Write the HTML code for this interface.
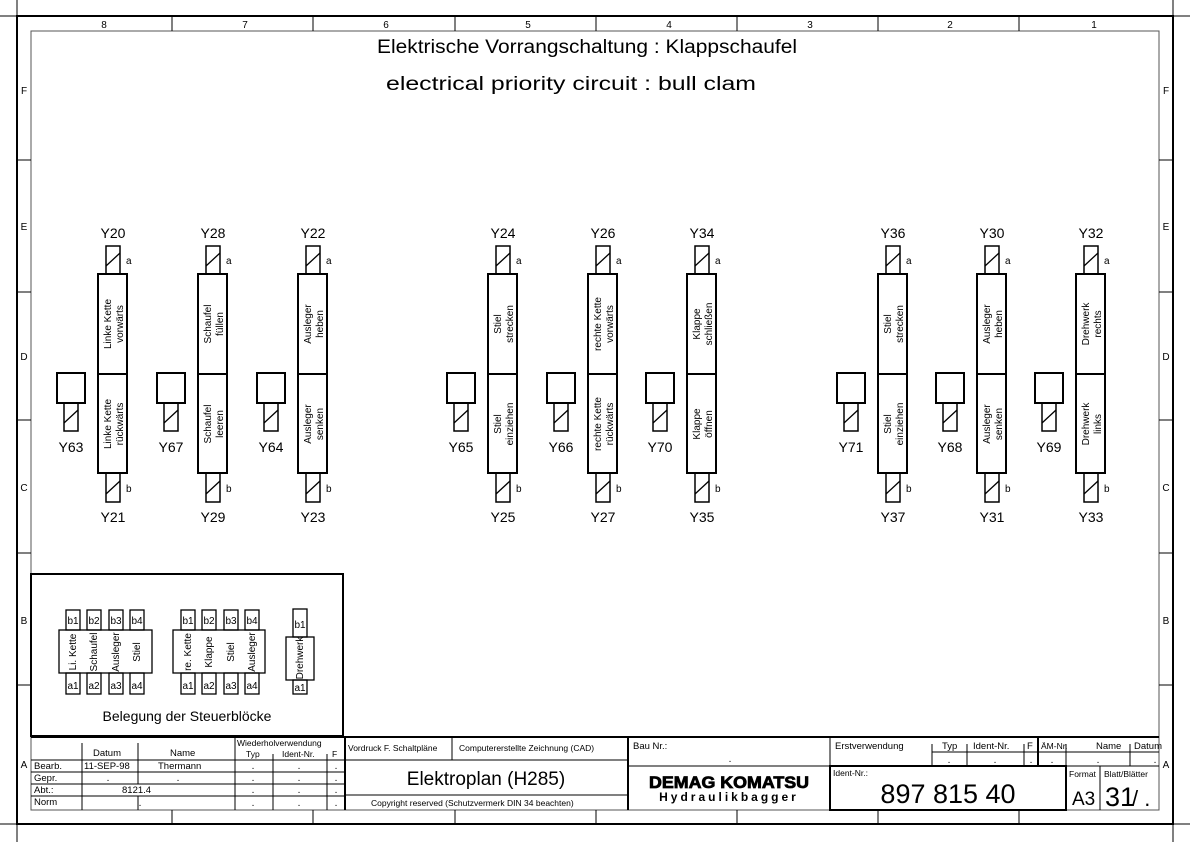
<!DOCTYPE html>
<html><head><meta charset="utf-8"><style>
html,body{margin:0;padding:0;background:#fff;}
svg{display:block;font-family:"Liberation Sans",sans-serif;}
</style></head><body>
<svg width="1190" height="842" viewBox="0 0 1190 842" xmlns="http://www.w3.org/2000/svg">
<defs>
<g id="v" fill="none" stroke="#000">
<rect x="0" y="274" width="29" height="199" stroke-width="2"/>
<line x1="0" y1="374" x2="29" y2="374" stroke-width="2"/>
<rect x="8" y="246" width="14" height="28" stroke-width="1.5"/>
<line x1="8" y1="266" x2="22" y2="253" stroke-width="1.3"/>
<rect x="8" y="473" width="14" height="29" stroke-width="1.5"/>
<line x1="8" y1="494" x2="22" y2="481" stroke-width="1.3"/>
<rect x="-41" y="373" width="28" height="30" stroke-width="2"/>
<rect x="-34" y="403" width="14" height="28" stroke-width="1.5"/>
<line x1="-34" y1="423" x2="-20" y2="410" stroke-width="1.3"/>
</g>
</defs>
<g fill="none" stroke="#000">
<rect x="17" y="16" width="1156" height="808" stroke-width="2"/>
<rect x="31" y="31" width="1128" height="779" stroke-width="1" stroke="#555"/>
<path d="M0 16 H28 M17 0 V28 M1162 16 H1190 M1173 0 V28 M0 824 H28 M17 812 V842 M1162 824 H1190 M1173 812 V842" stroke-width="1"/>
<path d="M172 16V31 M313 16V31 M455 16V31 M596 16V31 M737 16V31 M878 16V31 M1019 16V31" stroke-width="1"/>
<path d="M172 810V824 M313 810V824 M455 810V824 M596 810V824 M737 810V824 M878 810V824 M1019 810V824" stroke-width="1"/>
<path d="M17 160H31 M17 292H31 M17 420H31 M17 553H31 M17 685H31 M1159 160H1173 M1159 292H1173 M1159 420H1173 M1159 553H1173 M1159 685H1173" stroke-width="1"/>
</g>
<g font-size="10" text-anchor="middle" fill="#000">
<text x="104" y="28">8</text><text x="245" y="28">7</text><text x="386" y="28">6</text><text x="528" y="28">5</text><text x="669" y="28">4</text><text x="810" y="28">3</text><text x="950" y="28">2</text><text x="1094" y="28">1</text>
<text x="24" y="94">F</text><text x="24" y="230">E</text><text x="24" y="360">D</text><text x="24" y="491">C</text><text x="24" y="624">B</text><text x="24" y="768">A</text>
<text x="1166" y="94">F</text><text x="1166" y="230">E</text><text x="1166" y="360">D</text><text x="1166" y="491">C</text><text x="1166" y="624">B</text><text x="1166" y="768">A</text>
</g>
<g font-size="19" text-anchor="middle" fill="#000">
<text x="587" y="53" textLength="420" lengthAdjust="spacingAndGlyphs">Elektrische Vorrangschaltung : Klappschaufel</text>
<text x="571" y="90" textLength="370" lengthAdjust="spacingAndGlyphs">electrical priority circuit : bull clam</text>
</g>
<use href="#v" x="98"/><use href="#v" x="198"/><use href="#v" x="298"/>
<use href="#v" x="488"/><use href="#v" x="588"/><use href="#v" x="687"/>
<use href="#v" x="878"/><use href="#v" x="977"/><use href="#v" x="1076"/>
<g font-size="14" text-anchor="middle" fill="#000">
<text x="113" y="238">Y20</text><text x="113" y="522">Y21</text><text x="71" y="452">Y63</text>
<text x="213" y="238">Y28</text><text x="213" y="522">Y29</text><text x="171" y="452">Y67</text>
<text x="313" y="238">Y22</text><text x="313" y="522">Y23</text><text x="271" y="452">Y64</text>
<text x="503" y="238">Y24</text><text x="503" y="522">Y25</text><text x="461" y="452">Y65</text>
<text x="603" y="238">Y26</text><text x="603" y="522">Y27</text><text x="561" y="452">Y66</text>
<text x="702" y="238">Y34</text><text x="702" y="522">Y35</text><text x="660" y="452">Y70</text>
<text x="893" y="238">Y36</text><text x="893" y="522">Y37</text><text x="851" y="452">Y71</text>
<text x="992" y="238">Y30</text><text x="992" y="522">Y31</text><text x="950" y="452">Y68</text>
<text x="1091" y="238">Y32</text><text x="1091" y="522">Y33</text><text x="1049" y="452">Y69</text>
</g>
<g font-size="10" fill="#000">
<text x="126" y="264">a</text><text x="126" y="492">b</text>
<text x="226" y="264">a</text><text x="226" y="492">b</text>
<text x="326" y="264">a</text><text x="326" y="492">b</text>
<text x="516" y="264">a</text><text x="516" y="492">b</text>
<text x="616" y="264">a</text><text x="616" y="492">b</text>
<text x="715" y="264">a</text><text x="715" y="492">b</text>
<text x="906" y="264">a</text><text x="906" y="492">b</text>
<text x="1005" y="264">a</text><text x="1005" y="492">b</text>
<text x="1104" y="264">a</text><text x="1104" y="492">b</text>
</g>
<g font-size="10" text-anchor="middle" fill="#000">
<g transform="translate(113,324) rotate(-90)"><text y="-2">Linke Kette</text><text y="10">vorwärts</text></g>
<g transform="translate(113,424) rotate(-90)"><text y="-2">Linke Kette</text><text y="10">rückwärts</text></g>
<g transform="translate(213,324) rotate(-90)"><text y="-2">Schaufel</text><text y="10">füllen</text></g>
<g transform="translate(213,424) rotate(-90)"><text y="-2">Schaufel</text><text y="10">leeren</text></g>
<g transform="translate(313,324) rotate(-90)"><text y="-2">Ausleger</text><text y="10">heben</text></g>
<g transform="translate(313,424) rotate(-90)"><text y="-2">Ausleger</text><text y="10">senken</text></g>
<g transform="translate(503,324) rotate(-90)"><text y="-2">Stiel</text><text y="10">strecken</text></g>
<g transform="translate(503,424) rotate(-90)"><text y="-2">Stiel</text><text y="10">einziehen</text></g>
<g transform="translate(603,324) rotate(-90)"><text y="-2">rechte Kette</text><text y="10">vorwärts</text></g>
<g transform="translate(603,424) rotate(-90)"><text y="-2">rechte Kette</text><text y="10">rückwärts</text></g>
<g transform="translate(702,324) rotate(-90)"><text y="-2">Klappe</text><text y="10">schließen</text></g>
<g transform="translate(702,424) rotate(-90)"><text y="-2">Klappe</text><text y="10">öffnen</text></g>
<g transform="translate(893,324) rotate(-90)"><text y="-2">Stiel</text><text y="10">strecken</text></g>
<g transform="translate(893,424) rotate(-90)"><text y="-2">Stiel</text><text y="10">einziehen</text></g>
<g transform="translate(992,324) rotate(-90)"><text y="-2">Ausleger</text><text y="10">heben</text></g>
<g transform="translate(992,424) rotate(-90)"><text y="-2">Ausleger</text><text y="10">senken</text></g>
<g transform="translate(1091,324) rotate(-90)"><text y="-2">Drehwerk</text><text y="10">rechts</text></g>
<g transform="translate(1091,424) rotate(-90)"><text y="-2">Drehwerk</text><text y="10">links</text></g>
</g>
<g fill="none" stroke="#000" stroke-width="1.3">
<rect x="31" y="574" width="312" height="162" stroke-width="2"/>
<rect x="59" y="630" width="93" height="43"/>
<rect x="66" y="610" width="14" height="20"/><rect x="87" y="610" width="14" height="20"/><rect x="109" y="610" width="14" height="20"/><rect x="130" y="610" width="14" height="20"/>
<rect x="66" y="673" width="14" height="21"/><rect x="87" y="673" width="14" height="21"/><rect x="109" y="673" width="14" height="21"/><rect x="130" y="673" width="14" height="21"/>
<rect x="173" y="630" width="92" height="43"/>
<rect x="181" y="610" width="14" height="20"/><rect x="202" y="610" width="14" height="20"/><rect x="224" y="610" width="14" height="20"/><rect x="245" y="610" width="14" height="20"/>
<rect x="181" y="673" width="14" height="21"/><rect x="202" y="673" width="14" height="21"/><rect x="224" y="673" width="14" height="21"/><rect x="245" y="673" width="14" height="21"/>
<rect x="286" y="637" width="28" height="43"/>
<rect x="293" y="609" width="14" height="28"/><rect x="293" y="680" width="14" height="14"/>
</g>
<g font-size="10" text-anchor="middle" fill="#000">
<text x="73" y="624">b1</text><text x="94" y="624">b2</text><text x="116" y="624">b3</text><text x="137" y="624">b4</text>
<text x="73" y="689">a1</text><text x="94" y="689">a2</text><text x="116" y="689">a3</text><text x="137" y="689">a4</text>
<text x="188" y="624">b1</text><text x="209" y="624">b2</text><text x="231" y="624">b3</text><text x="252" y="624">b4</text>
<text x="188" y="689">a1</text><text x="209" y="689">a2</text><text x="231" y="689">a3</text><text x="252" y="689">a4</text>
<text x="300" y="628">b1</text><text x="300" y="691">a1</text>
<text x="73" y="655" transform="rotate(-90 73 652)">Li. Kette</text>
<text x="94" y="655" transform="rotate(-90 94 652)">Schaufel</text>
<text x="116" y="655" transform="rotate(-90 116 652)">Ausleger</text>
<text x="137" y="655" transform="rotate(-90 137 652)">Stiel</text>
<text x="188" y="655" transform="rotate(-90 188 652)">re. Kette</text>
<text x="209" y="655" transform="rotate(-90 209 652)">Klappe</text>
<text x="231" y="655" transform="rotate(-90 231 652)">Stiel</text>
<text x="252" y="655" transform="rotate(-90 252 652)">Ausleger</text>
<text x="300" y="661" transform="rotate(-90 300 658)">Drehwerk</text>
<text x="187" y="721" font-size="14">Belegung der Steuerblöcke</text>
</g>
<g fill="none" stroke="#000" stroke-width="1">
<line x1="31" y1="737" x2="1159" y2="737" stroke-width="2"/>
<line x1="31" y1="760" x2="345" y2="760"/>
<line x1="31" y1="772" x2="345" y2="772"/><line x1="31" y1="784" x2="345" y2="784"/><line x1="31" y1="796" x2="345" y2="796"/>
<line x1="82" y1="743" x2="82" y2="810"/><line x1="138" y1="743" x2="138" y2="784"/><line x1="138" y1="796" x2="138" y2="810"/>
<line x1="235" y1="737" x2="235" y2="810"/><line x1="273" y1="754" x2="273" y2="810"/><line x1="327" y1="754" x2="327" y2="810"/>
<line x1="345" y1="737" x2="345" y2="810" stroke-width="2"/>
<line x1="345" y1="760" x2="628" y2="760"/><line x1="452" y1="737" x2="452" y2="760"/>
<line x1="345" y1="795" x2="628" y2="795"/>
<line x1="628" y1="737" x2="628" y2="810" stroke-width="2"/>
<line x1="628" y1="766" x2="1159" y2="766"/>
<line x1="830" y1="737" x2="830" y2="766"/>
<rect x="830" y="766" width="236" height="44" stroke-width="2"/>
<line x1="1038" y1="737" x2="1038" y2="766" stroke-width="2"/>
<line x1="932" y1="752" x2="1038" y2="752"/><line x1="967" y1="744" x2="967" y2="766"/><line x1="1024" y1="744" x2="1024" y2="766"/><line x1="932" y1="744" x2="932" y2="766"/>
<line x1="1038" y1="752" x2="1159" y2="752"/><line x1="1066" y1="744" x2="1066" y2="766"/><line x1="1130" y1="744" x2="1130" y2="766"/>
<line x1="1100" y1="766" x2="1100" y2="810"/>
</g>
<g font-size="9.5" fill="#000">
<text x="93" y="756">Datum</text><text x="170" y="756">Name</text>
<text x="237" y="746" font-size="8.5">Wiederholverwendung</text>
<text x="246" y="757" font-size="8.5">Typ</text><text x="282" y="757" font-size="8.5">Ident-Nr.</text><text x="332" y="757" font-size="8.5">F</text>
<text x="34" y="769">Bearb.</text><text x="84" y="769">11-SEP-98</text><text x="158" y="769">Thermann</text>
<text x="34" y="781">Gepr.</text><text x="34" y="793">Abt.:</text><text x="122" y="793">8121.4</text><text x="34" y="805">Norm</text>
<text x="348" y="751" font-size="8.5">Vordruck F. Schaltpläne</text>
<text x="459" y="751" font-size="8.5">Computererstellte Zeichnung (CAD)</text>
<text x="371" y="806" font-size="8.5">Copyright reserved (Schutzvermerk DIN 34 beachten)</text>
<text x="633" y="749">Bau Nr.:</text>
<text x="835" y="749">Erstverwendung</text><text x="942" y="749">Typ</text><text x="973" y="749">Ident-Nr.</text><text x="1027" y="749">F</text>
<text x="1041" y="749" font-size="8.5">ÄM-Nr.</text><text x="1096" y="749">Name</text><text x="1134" y="749">Datum</text>
<text x="833" y="776" font-size="8.5">Ident-Nr.:</text>
<text x="1069" y="777" font-size="8.5">Format</text><text x="1104" y="777" font-size="8.5">Blatt/Blätter</text>
</g>
<g font-size="10" fill="#000" text-anchor="middle">
<text x="253" y="769">.</text><text x="299" y="769">.</text><text x="336" y="769">.</text>
<text x="108" y="781">.</text><text x="178" y="781">.</text><text x="253" y="781">.</text><text x="299" y="781">.</text><text x="336" y="781">.</text>
<text x="253" y="793">.</text><text x="299" y="793">.</text><text x="336" y="793">.</text>
<text x="140" y="806">.</text><text x="253" y="806">.</text><text x="299" y="806">.</text><text x="336" y="806">.</text>
<text x="730" y="762">.</text><text x="949" y="763">.</text><text x="995" y="763">.</text><text x="1031" y="763">.</text>
<text x="1052" y="763">.</text><text x="1098" y="763">.</text><text x="1155" y="763">.</text>
</g>
<text x="486" y="785" font-size="19" text-anchor="middle" fill="#000">Elektroplan (H285)</text>
<text x="948" y="803" font-size="27" text-anchor="middle" fill="#000">897 815 40</text>
<text x="1072" y="805" font-size="19" fill="#000">A3</text>
<text x="1105" y="806" font-size="27" fill="#000">31</text><text x="1132" y="806" font-size="22" fill="#000">/ .</text>
<text x="729" y="788" font-size="17" font-weight="bold" text-anchor="middle" fill="#000" stroke="#000" stroke-width="0.8" textLength="160" lengthAdjust="spacingAndGlyphs">DEMAG KOMATSU</text>
<text x="729" y="801" font-size="12" font-weight="bold" text-anchor="middle" fill="#000" letter-spacing="3">Hydraulikbagger</text>
</svg>
</body></html>
